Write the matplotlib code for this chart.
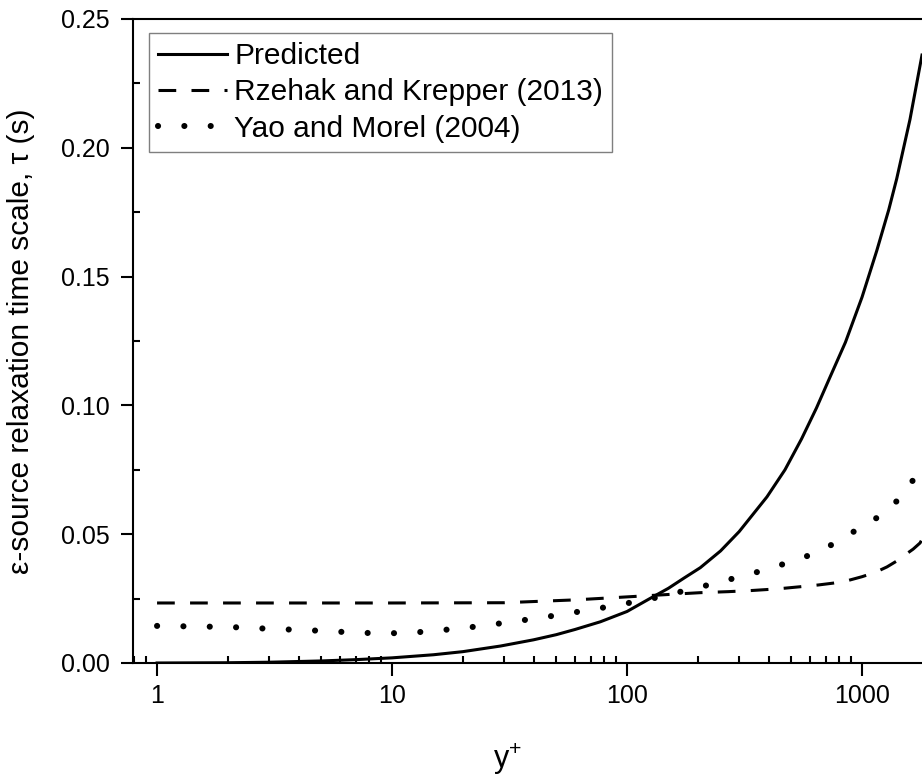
import matplotlib
matplotlib.use('Agg')
import matplotlib.pyplot as plt
from matplotlib.ticker import LogLocator, MultipleLocator, NullFormatter, FormatStrFormatter

plt.rcParams['font.family'] = ['Liberation Sans', 'DejaVu Sans']
plt.rcParams['mathtext.fontset'] = 'custom'
plt.rcParams['mathtext.rm'] = 'Liberation Sans'
plt.rcParams['mathtext.default'] = 'regular'

# relaxation time scale vs wall distance
yplus_pred = [1, 2, 3, 5, 7, 10, 15, 20, 29, 40, 50, 60, 77, 100, 125, 150, 175, 205, 250, 300,
              394, 470, 553, 640, 731, 850, 1000, 1155, 1300, 1405, 1600, 1800]
tau_pred = [0.0, 0.0001, 0.0003, 0.0008, 0.0013, 0.0020, 0.0032, 0.0044, 0.0066, 0.0090, 0.0110,
            0.0130, 0.0160, 0.0200, 0.0250, 0.0290, 0.0330, 0.0370, 0.0435, 0.0510, 0.0645, 0.0750,
            0.0870, 0.0990, 0.1110, 0.1245, 0.1420, 0.1600, 0.1760, 0.1880, 0.2110, 0.2360]

yplus_rk = [1, 10, 30, 60, 106, 150, 205, 270, 334, 440, 545, 653, 753, 870, 1000, 1140, 1277,
            1400, 1500, 1650, 1766, 1800]
tau_rk = [0.0233, 0.0233, 0.0234, 0.0245, 0.0258, 0.0266, 0.0273, 0.0277, 0.0281, 0.0288, 0.0296,
          0.0303, 0.0310, 0.0320, 0.0335, 0.0352, 0.0373, 0.0395, 0.0415, 0.0442, 0.0466, 0.0480]

yplus_ym = [1, 2, 3, 5, 7, 9, 12, 20, 32, 50, 77, 125, 205, 334, 420, 540, 663, 800, 1000, 1253,
            1500, 1730, 1800]
tau_ym = [0.0144, 0.0140, 0.0133, 0.0125, 0.0118, 0.0115, 0.0117, 0.0135, 0.0159, 0.0185, 0.0213,
          0.0248, 0.0295, 0.0345, 0.0372, 0.0403, 0.0435, 0.0475, 0.0530, 0.0582, 0.0655, 0.0738,
          0.0760]

fig = plt.figure(figsize=(9.22, 7.76), dpi=100)
ax = fig.add_axes([133 / 922, 113 / 776, 789 / 922, 644 / 776])

ax.plot(yplus_pred, tau_pred, color='k', lw=2.2, label='Predicted')
ax.plot(yplus_rk, tau_rk, color='k', lw=2.2, dashes=(5.8, 5.0), label='Rzehak and Krepper (2013)')
ax.plot(yplus_ym, tau_ym, color='k', lw=4.4, dashes=(0.01, 4.3), dash_capstyle='round',
        label='Yao and Morel (2004)')

ax.set_xscale('log')
ax.set_xlim(0.79, 1800)
ax.set_ylim(0, 0.25)

ax.set_xticks([1, 10, 100, 1000])
ax.set_xticklabels(['1', '10', '100', '1000'])
ax.xaxis.set_minor_locator(LogLocator(base=10, subs=range(2, 10)))
ax.xaxis.set_minor_formatter(NullFormatter())
ax.yaxis.set_major_locator(MultipleLocator(0.05))
ax.yaxis.set_minor_locator(MultipleLocator(0.025))
ax.yaxis.set_major_formatter(FormatStrFormatter('%.2f'))

ax.tick_params(which='major', direction='out', length=9, width=1.5, labelsize=18)
ax.tick_params(which='minor', direction='in', length=5, width=1.5)
ax.tick_params(axis='y', which='major', pad=8)
ax.tick_params(axis='x', which='major', pad=6)

for side in ['left', 'bottom', 'top']:
    ax.spines[side].set_linewidth(1.5)
ax.spines['right'].set_visible(False)

ax.set_ylabel('ε-source relaxation time scale, τ (s)', fontsize=21.5)
ax.yaxis.set_label_coords(-0.124, 0.5)
ax.set_xlabel('y$^{+}$', fontsize=22)
ax.xaxis.set_label_coords(0.474, -0.122)

leg = ax.legend(loc='upper left', bbox_to_anchor=((149 - 133) / 789, 1 - (33 - 19) / 644),
                borderaxespad=0, fontsize=21.5, handlelength=2.3, handletextpad=0.25,
                borderpad=0.3, labelspacing=0.28, fancybox=False, edgecolor='#7f7f7f',
                framealpha=1)
leg.get_frame().set_linewidth(1.0)

fig.savefig('out.png', dpi=100)
